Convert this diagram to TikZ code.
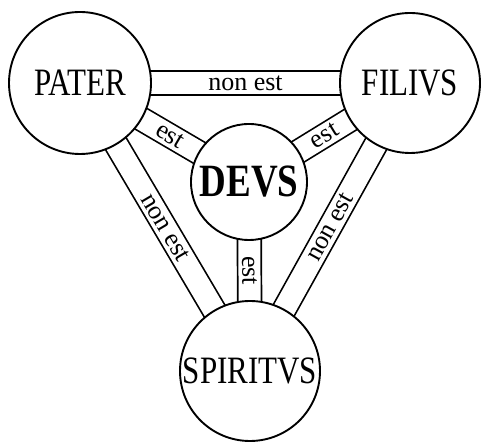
\documentclass[tikz,border=0pt]{standalone}
\usepackage{fontspec}
\setmainfont{Liberation Serif}
\usepackage{graphicx}
\usepackage{tikz}
\usetikzlibrary{backgrounds}

% taller capitals, as in the reference lettering
\newcommand{\tallcaps}[1]{\scalebox{1}[1.25]{#1}}

\begin{document}
\begin{tikzpicture}[x=1pt, y=1pt,
    disc/.style={circle, draw=black, fill=white, line width=1.9pt, inner sep=0pt},
    personname/.style={font=\fontsize{31}{31}\selectfont},
    band/.style={draw=black, line width=1.7pt, double=white, double distance=22pt},
    bandlabel/.style={sloped, allow upside down, inner sep=0pt, font=\fontsize{26}{26}\selectfont}]
  \useasboundingbox (0,0) rectangle (481,443);

  % --- The four circles ---
  \node[disc, personname, minimum size=142pt] (pater) at (80,360) {\tallcaps{PATER}};
  \node[disc, personname, minimum size=140pt] (filius) at (410,360) {\tallcaps{FILIVS}};
  \node[disc, minimum size=116pt, font=\fontsize{37}{37}\selectfont\bfseries] (devs) at (249,261) {\tallcaps{DEVS}};
  \node[disc, personname, minimum size=140pt] (spiritus) at (250,72) {\tallcaps{SPIRITVS}};

  % --- Bands between the circles ---
  \begin{scope}[on background layer]
    \draw[band] (pater.center) -- (filius.center);
    \draw[band] (pater.center) -- (spiritus.center);
    \draw[band] (filius.center) -- (spiritus.center);
    \draw[band] (pater.center) -- (devs.center);
    \draw[band] (filius.center) -- (devs.center);
    \draw[band] (devs.center) -- (spiritus.center);
  \end{scope}

  % --- Band texts ---
  \path (pater) -- node[bandlabel] {non est} (filius);
  \path (pater) -- node[bandlabel] {non est} (spiritus);
  \path (spiritus) -- node[bandlabel] {non est} (filius);
  \path (pater) -- node[bandlabel] {est} (devs);
  \path (devs) -- node[bandlabel] {est} (filius);
  \path (devs) -- node[bandlabel] {est} (spiritus);
\end{tikzpicture}
\end{document}
